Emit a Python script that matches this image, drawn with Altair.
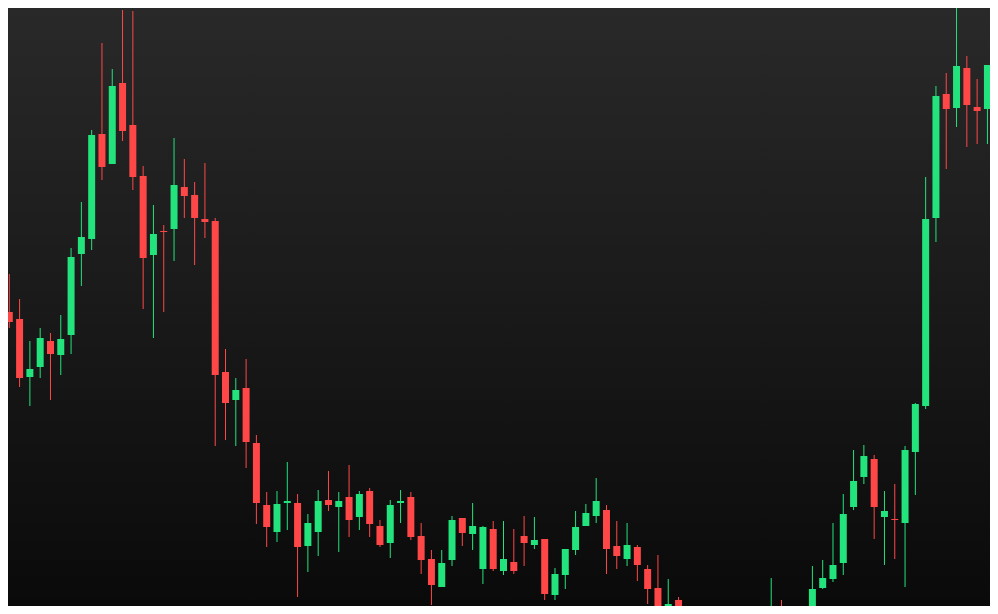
import altair as alt
import pandas as pd

# OHLC values (98 sessions)
opens = [44.20, 44.40, 44.05, 41.15, 41.65, 42.95, 42.25, 43.25, 47.30, 48.05,
         53.30, 51.80, 55.85, 53.75, 51.20, 47.25, 48.45, 48.55, 50.65, 50.25,
         49.05, 48.95, 41.40, 40.00, 40.60, 37.85, 34.75, 33.40, 34.85, 34.85,
         32.70, 33.40, 35.00, 34.65, 35.15, 34.15, 35.45, 33.70, 32.85, 34.85,
         35.15, 33.20, 32.05, 30.65, 32.00, 34.10, 33.30, 31.55, 33.55, 31.45,
         31.90, 33.20, 32.75, 33.05, 30.25, 31.25, 32.50, 33.70, 34.20, 34.50,
         32.70, 32.05, 32.65, 31.55, 30.60, 29.60, 30.00, 28.80, 27.90, 28.60,
         27.40, 26.60, 27.40, 28.30, 28.00, 28.90, 29.50, 29.20, 28.60, 29.00,
         30.60, 31.05, 31.85, 34.65, 36.15, 37.05, 34.15, 34.05, 33.85, 37.40,
         39.70, 49.10, 55.30, 54.60, 56.60, 54.65, 54.55, 56.60]

closes = [44.55, 43.90, 41.10, 41.55, 43.10, 42.30, 43.05, 47.15, 48.15, 53.25,
          51.65, 55.70, 53.45, 51.15, 47.10, 48.30, 48.40, 50.75, 50.20, 49.10,
          48.90, 41.25, 39.85, 40.50, 37.90, 34.85, 33.65, 34.80, 34.95, 32.65,
          33.85, 34.95, 34.75, 34.95, 34.00, 35.30, 33.80, 32.75, 34.75, 34.95,
          33.15, 32.00, 30.75, 31.85, 34.00, 33.35, 33.70, 33.65, 31.55, 32.05,
          31.45, 32.85, 33.00, 30.30, 31.30, 32.55, 33.65, 34.35, 34.95, 32.55,
          32.20, 32.75, 31.75, 30.55, 29.65, 29.80, 28.75, 28.00, 28.50, 27.25,
          26.60, 27.50, 28.20, 27.60, 29.00, 29.60, 29.35, 28.70, 29.10, 30.55,
          31.10, 31.75, 34.30, 35.95, 37.20, 34.65, 34.45, 34.00, 37.50, 39.80,
          49.05, 55.20, 54.55, 56.70, 54.75, 54.45, 56.75, 61.00]

highs = [44.80, 46.30, 45.05, 42.95, 43.60, 43.35, 44.25, 47.60, 49.90, 53.50,
         57.85, 56.55, 59.50, 59.45, 51.70, 49.75, 48.75, 53.10, 52.05, 50.90,
         51.85, 49.10, 42.55, 41.10, 42.05, 38.25, 35.40, 35.45, 36.90, 35.30,
         34.30, 35.50, 36.45, 35.40, 36.75, 35.45, 35.60, 34.00, 35.00, 35.50,
         35.40, 33.85, 32.50, 32.50, 34.20, 34.10, 34.85, 33.70, 33.95, 33.95,
         33.55, 34.20, 34.15, 33.05, 31.60, 32.55, 34.45, 34.80, 36.10, 34.75,
         33.95, 33.85, 32.75, 31.75, 32.25, 31.05, 30.15, 29.10, 28.90, 29.00,
         27.75, 28.00, 28.75, 28.90, 29.20, 31.10, 30.00, 29.65, 29.35, 31.70,
         32.00, 33.85, 35.30, 37.50, 37.75, 37.25, 35.45, 35.80, 37.70, 39.85,
         51.15, 55.70, 56.35, 59.65, 57.20, 56.05, 56.75, 61.50]

lows = [43.90, 43.60, 40.65, 39.70, 41.10, 40.00, 41.25, 42.30, 45.70, 47.50,
        51.00, 51.80, 52.95, 50.50, 44.55, 43.10, 44.40, 46.95, 49.10, 46.75,
        48.10, 37.70, 38.00, 37.70, 36.60, 33.80, 32.65, 32.90, 33.50, 30.15,
        31.40, 32.20, 34.45, 32.40, 33.15, 33.50, 33.15, 32.65, 32.10, 33.85,
        33.00, 31.30, 29.75, 30.65, 31.70, 32.70, 32.50, 30.80, 31.45, 31.25,
        31.30, 31.70, 32.55, 30.00, 30.00, 30.55, 32.25, 33.70, 33.85, 31.30,
        31.55, 31.70, 30.95, 29.80, 29.50, 29.10, 28.40, 27.60, 27.50, 26.90,
        26.25, 26.40, 27.10, 27.25, 27.75, 28.60, 28.90, 28.40, 28.30, 28.80,
        30.55, 30.90, 31.25, 34.50, 35.80, 33.05, 31.75, 32.05, 30.65, 35.25,
        39.55, 47.90, 51.55, 53.65, 52.65, 52.80, 52.80, 56.25]

GREEN = "#22e37c"
RED = "#ff4747"
BG_TOP = "#292929"
BG_BOTTOM = "#0a0a0a"

df = pd.DataFrame({
    "i": list(range(len(opens))),
    "open": opens,
    "high": highs,
    "low": lows,
    "close": closes,
})

W, H = 982, 598
xscale = alt.Scale(domain=[0.874, 96.25], nice=False, zero=False, padding=0)
yscale = alt.Scale(domain=[29.7, 59.6], nice=False, zero=False, padding=0)

color = alt.when(alt.datum.close >= alt.datum.open).then(alt.value(GREEN)).otherwise(alt.value(RED))

bg = alt.Chart(alt.Data(values=[{"a": 1}])).mark_rect(
    color=alt.LinearGradient(
        gradient="linear",
        stops=[alt.GradientStop(color=BG_TOP, offset=0),
               alt.GradientStop(color=BG_BOTTOM, offset=1)],
        x1=0, x2=0, y1=0, y2=1,
    )
).encode(x=alt.value(0), x2=alt.value(W), y=alt.value(0), y2=alt.value(H))

wicks = alt.Chart(df).mark_rule(strokeWidth=1, clip=True).encode(
    x=alt.X("i:Q", scale=xscale, axis=None),
    y=alt.Y("low:Q", scale=yscale, axis=None),
    y2="high:Q",
    color=color,
)

bodies = alt.Chart(df).mark_bar(width=7, clip=True).encode(
    x=alt.X("i:Q", scale=xscale, axis=None),
    y=alt.Y("open:Q", scale=yscale, axis=None),
    y2="close:Q",
    color=color,
)

chart = alt.layer(bg, wicks, bodies).properties(
    width=W, height=H, padding=0, autosize="none", background=BG_BOTTOM
).configure_view(stroke=None)

chart.save("out.html", embed_options={"renderer": "svg", "actions": False})
